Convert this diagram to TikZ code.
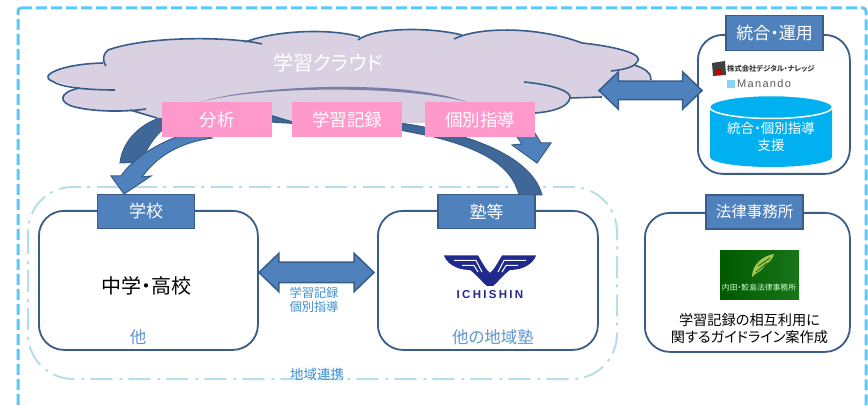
\documentclass[tikz,border=0pt]{standalone}
\usepackage{fontspec}
\setmainfont[RawFeature=+palt]{Noto Sans CJK JP}
\newfontfamily\latinlogo{Liberation Sans}
\usetikzlibrary{shapes.arrows,calc}
\definecolor{boxblue}{HTML}{4F81BD}
\definecolor{edgeblue}{HTML}{385D8A}
\definecolor{darkband}{HTML}{3F6797}
\definecolor{cloudfill}{HTML}{D9D0E2}
\definecolor{pinkbox}{HTML}{FF99CC}
\definecolor{outerdash}{HTML}{5BC8FA}
\definecolor{regiondash}{HTML}{B7DEE8}
\definecolor{bluetext}{HTML}{3A8FD0}
\definecolor{softblue}{HTML}{5F94D0}
\definecolor{cyl}{HTML}{00B0F0}
\definecolor{navy}{HTML}{1F2A8C}
\definecolor{bandtint}{HTML}{7A7FA8}
\tikzset{
  fs/.style={font=\fontsize{#1}{#1}\selectfont},
  panel/.style={draw=edgeblue,line width=1.8pt,fill=white,rounded corners=25pt,inner sep=0pt,anchor=north west},
  titlebox/.style={draw=edgeblue,line width=1.5pt,fill=boxblue,text=white,inner sep=0pt,minimum height=34pt,minimum width=97pt},
  pinkb/.style={fill=pinkbox,text=white,inner sep=0pt,minimum width=110pt,minimum height=35pt,fs=17.5},
  dbl/.style={double arrow,draw=edgeblue,line width=1.5pt,fill=boxblue,inner xsep=0pt,double arrow head indent=0pt},
  cloudline/.style={draw=edgeblue,line width=1.6pt},
  bandfill/.style={fill=darkband,draw=edgeblue,line width=1pt},
  lightfill/.style={fill=boxblue,draw=edgeblue,line width=1pt},
  lbl/.style={inner sep=0pt},
}
\begin{document}
\begin{tikzpicture}[x=1pt,y=-1pt]
\useasboundingbox (0,0) rectangle (868,406);
% frames
\draw[outerdash,line width=3pt,dash pattern=on 11pt off 4pt,rounded corners=3pt] (18,8) -- (866,8) -- (866,412) -- (18,412) -- cycle;
\draw[regiondash,line width=2pt,dash pattern=on 22pt off 7pt on 3pt off 6pt,rounded corners=45pt] (28,187) rectangle (617,379);
% block arrows behind the cloud
\draw[bandfill] (165,116) .. controls (135,125) and (122,145) .. (120,163) -- (141,162) .. controls (147,148) and (155,135) .. (165,128) -- cycle;
\draw[bandfill] (270,116) -- (400,123) .. controls (450,130) and (530,150) .. (542,195) -- (519,195) .. controls (512,165) and (480,148) .. (430,136) -- (400,130) -- (270,122) -- cycle;
\draw[lightfill] (124,194) -- (151,176) -- (142,177) .. controls (160,152) and (185,142) .. (212,138) -- (190,132) .. controls (165,140) and (135,155) .. (121,176) -- (111,176) -- cycle;
\draw[lightfill] (537,163) -- (551,143) -- (541,143) -- (533,130) -- (512,130) -- (522,144) -- (512,145) -- cycle;
% cloud
\fill[cloudfill] (106,66) .. controls (102,60) and (103,54) .. (108,50) .. controls (150,35) and (235,37) .. (262,44) -- (245,42) .. controls (280,29) and (335,29) .. (360,37) -- (358,40) .. controls (375,27) and (430,27) .. (462,35) -- (454,39) .. controls (480,26) and (540,27) .. (582,43) .. controls (620,47) and (645,55) .. (637,62) -- (634,65) .. controls (645,68) and (652,74) .. (651,80) -- (620,90) -- (600,97) -- (570,98) .. controls (568,108) and (550,112) .. (535,113) -- (425,123) -- (292,122) -- (272,116) -- (157,118) -- (130,110) -- (146,109) .. controls (125,112) and (95,112) .. (75,107) .. controls (58,103) and (58,92) .. (80,88) -- (52,81) .. controls (38,76) and (60,64) .. (103,63) -- cycle;
\draw[cloudline] (262,44) .. controls (235,37) and (150,35) .. (108,50) .. controls (103,54) and (102,60) .. (106,66);
\draw[cloudline] (103,63) .. controls (60,64) and (38,76) .. (52,81) .. controls (60,87) and (85,90) .. (115,90);
\draw[cloudline] (80,88) .. controls (58,92) and (58,103) .. (75,107) .. controls (95,112) and (125,112) .. (146,109);
\draw[cloudline] (130,110) -- (157,118);
\draw[cloudline] (245,42) .. controls (280,29) and (335,29) .. (360,37);
\draw[cloudline] (358,40) .. controls (375,27) and (430,27) .. (462,35);
\draw[cloudline] (454,39) .. controls (480,26) and (540,27) .. (582,43) .. controls (620,47) and (645,55) .. (637,62) .. controls (634,68) and (620,70) .. (611,71);
\draw[cloudline] (634,65) .. controls (645,68) and (652,74) .. (651,80);
\draw[cloudline] (524,82) .. controls (555,85) and (572,92) .. (570,98) .. controls (568,108) and (550,112) .. (535,113);
\draw[cloudline] (570,98) -- (602,97);
\draw[cloudline] (272,116) -- (292,122);
\fill[bandtint] (200,102) .. controls (250,86) and (400,78) .. (467,102) .. controls (400,85) and (260,86) .. (200,102) -- cycle;
\node[lbl,text=white,fs=20] (cloudtitle) at (328,63) {学習クラウド};
% panels
\node[panel,minimum width=219pt,minimum height=139pt] (school) at (38,210) {};
\node[panel,minimum width=220pt,minimum height=139pt] (juku) at (377,210) {};
\node[panel,minimum width=205pt,minimum height=139pt] (law) at (644,212) {};
\node[panel,minimum width=152pt,minimum height=139pt] (ops) at (697,34) {};
\node[titlebox,fs=17] (schoolt) at (146,211.5) {学校};
\node[titlebox,fs=17] (jukut) at (486.5,211.5) {塾等};
\node[titlebox,fs=15.5] (lawt) at (754.5,212) {法律事務所};
\node[titlebox,fs=17,minimum height=35pt] (opst) at (774.5,33) {統合・運用};
% pink labels
\node[pinkb] (p1) at (217,119.5) {分析};
\node[pinkb] (p2) at (347,119.5) {学習記録};
\node[pinkb] (p3) at (480,119.5) {個別指導};
% double arrows
\node[dbl,inner ysep=8.5pt,minimum height=103pt,minimum width=36pt,double arrow head extend=9.5pt,double arrow tip angle=88] (a1) at (650.5,90.5) {};
\node[dbl,inner ysep=9.5pt,minimum height=115pt,minimum width=37pt,double arrow head extend=9pt,double arrow tip angle=88] (a2) at (316.5,272.5) {};
% cylinder
\fill[cyl] (710,107) -- (710,157) arc[start angle=180,end angle=360,x radius=61pt,y radius=10pt] -- (832,107) -- cycle;
\draw[white,line width=1.5pt,fill=cyl] (771,107) ellipse[x radius=61.5pt,y radius=11.5pt];
\node[lbl,text=white,fs=13.5,align=center] (cyltext) at (771,137) {統合・個別指導\\[3pt]支援};
% Digital Knowledge logo
\fill[black!75] (712,63) -- (725,61) -- (726,75) -- (713,76) -- cycle;
\fill[red!75!black] (716,69) rectangle (722,75);
\node[lbl,anchor=west,text=black!75,fs=7.3] (dk) at (727,68.5) {\bfseries 株式会社デジタル・ナレッジ};
\fill[cyl!50] (727,80) rectangle (735,88);
\node[lbl,anchor=west,text=black!65,fs=11] (mn) at (737,84) {\latinlogo\addfontfeature{LetterSpace=12}Manando};
% ICHISHIN logo
\foreach \s in {1,-1}{
  \begin{scope}[shift={(490,0)},xscale=\s]
    \fill[navy] (46,255.5) .. controls (44,262) and (35,270) .. (20,270) .. controls (14,274) and (8,282) .. (3,286) -- (0,286) -- (0,273) .. controls (4,270) and (8,262) .. (12,255.5) -- cycle;
    \draw[white,line width=1pt] (36,260.5) -- (14,260.5) -- (8,272);
    \draw[white,line width=1pt] (28,265.5) -- (16,265.5) -- (12,272);
  \end{scope}
}
\node[lbl,text=navy,fs=11.5] (ichi) at (490,295) {\latinlogo\bfseries\addfontfeature{LetterSpace=20}ICHISHIN};
% law-office picture
\shade[left color=green!35!black,right color=green!40!black!90] (720,251) rectangle (799,300);
\fill[green!35!black!50!yellow!70!white] (752,277) .. controls (752,265) and (762,256) .. (774,254) .. controls (772,262) and (765,264) .. (763,268) .. controls (760,272) and (757,272) .. (752,277) -- cycle;
\draw[green!35!black,line width=.7pt] (756,272) -- (767,263) (758,266) -- (770,258);
\node[lbl,text=white!80!green,fs=7.8] (lawname) at (759,288) {内田・鮫島法律事務所};
% texts
\node[lbl,fs=20] (mid) at (146,286) {中学・高校};
\node[lbl,text=softblue,fs=16.5] (o1) at (138,337) {他};
\node[lbl,text=softblue,fs=16.5] (o2) at (493,337) {他の地域塾};
\node[lbl,text=bluetext,fs=12.2,align=center] (midl) at (314,300) {学習記録\\[1.5pt]個別指導};
\node[lbl,text=bluetext,fs=13.5] (region) at (317,374) {地域連携};
\node[lbl,fs=14.2,align=center] (lawtext) at (749.5,329) {学習記録の相互利用に\\[3pt]関するガイドライン案作成};
\end{tikzpicture}
\end{document}
